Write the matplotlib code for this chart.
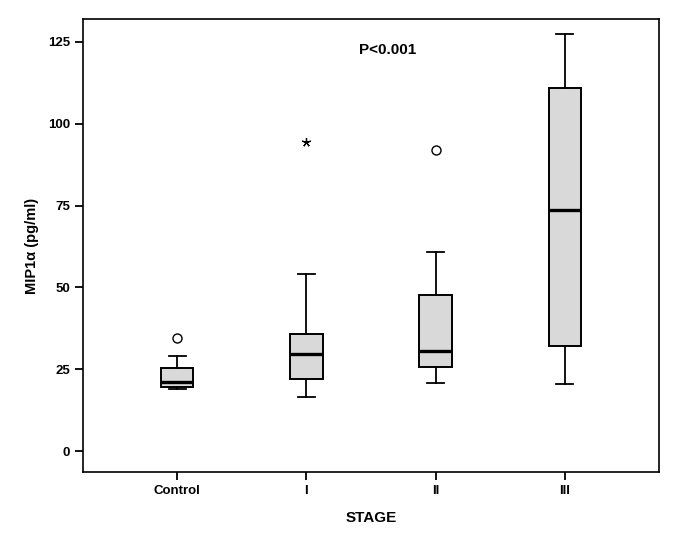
import matplotlib
matplotlib.use("Agg")
import matplotlib.pyplot as plt

plt.rcParams["font.family"] = ["Liberation Sans", "DejaVu Sans"]
plt.rcParams["font.weight"] = "bold"

# -----------------------------
# Data
# -----------------------------
stages = ["Control", "I", "II", "III"]
whislo = [18.9, 16.5, 20.8, 20.5]
q1 = [19.6, 22.0, 25.7, 32.1]
med = [21.1, 29.6, 30.6, 73.6]
q3 = [25.4, 35.8, 47.7, 110.9]
whishi = [29.0, 54.1, 60.8, 127.4]
outliers = [[34.5], [], [92.0], []]
extremes = [[], [94.4], [], []]

stats = []
for i, name in enumerate(stages):
    stats.append(dict(label=name, whislo=whislo[i], q1=q1[i], med=med[i],
                      q3=q3[i], whishi=whishi[i], fliers=outliers[i]))

fig = plt.figure(figsize=(6.82, 5.49), dpi=100)
ax = fig.add_axes([83 / 682, 1 - 472 / 549, (659 - 83) / 682, (472 - 19) / 549])

pos = list(range(len(stages)))
ax.bxp(
    stats,
    positions=pos,
    widths=0.25,
    patch_artist=True,
    boxprops=dict(facecolor="#d8d9d8", edgecolor="black", linewidth=1.4),
    medianprops=dict(color="black", linewidth=2.4),
    whiskerprops=dict(color="black", linewidth=1.3),
    capprops=dict(color="black", linewidth=1.3),
    capwidths=0.13,
    flierprops=dict(marker="o", markerfacecolor="white", markeredgecolor="black",
                    markersize=6.5, markeredgewidth=1.0),
)

# extreme values drawn as asterisks
for i, vals in enumerate(extremes):
    for v in vals:
        ax.plot([pos[i]], [v], marker=(5, 2, 0), color="black",
                markersize=6.5, markeredgewidth=0.9, linestyle="none")

ax.set_xlim(-0.73, 3.73)
ax.set_ylim(-6.4, 132.0)
ax.set_yticks([0, 25, 50, 75, 100, 125])
ax.set_xticks(pos)
ax.set_xticklabels(stages)

ax.tick_params(axis="both", direction="out", length=6, width=1.3,
               labelsize=9.5)
for s in ax.spines.values():
    s.set_linewidth(1.2)
    s.set_color("black")

ax.set_ylabel("MIP1α (pg/ml)", fontsize=10.5, fontweight="bold", labelpad=6)
ax.set_xlabel("STAGE", fontsize=11, fontweight="bold", labelpad=10)

ax.text(1.63, 122.5, "P<0.001", ha="center", va="center",
        fontsize=11, fontweight="bold")

fig.savefig("out.png", dpi=100)
